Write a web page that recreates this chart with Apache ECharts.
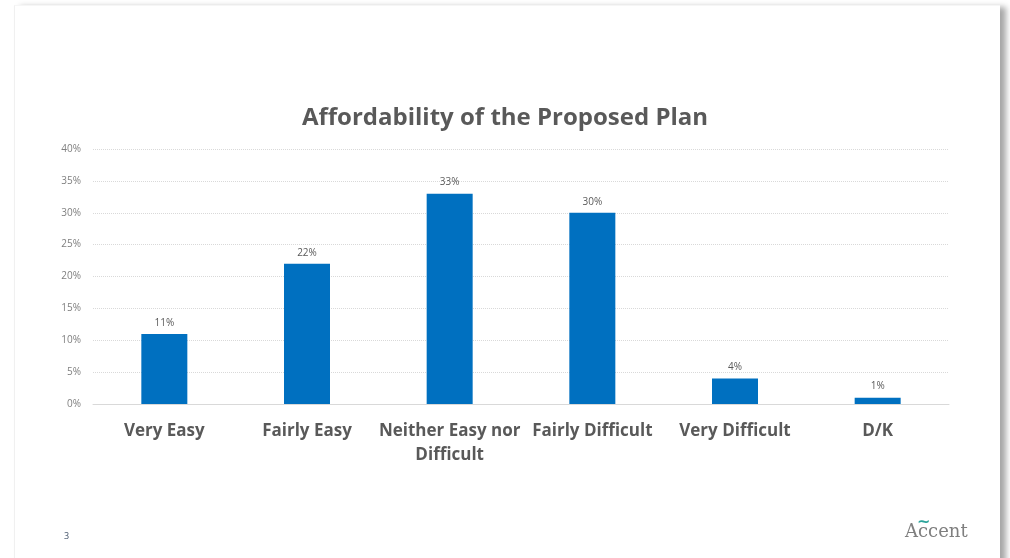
<!DOCTYPE html>
<html>
<head>
<meta charset="utf-8">
<script src="https://cdn.jsdelivr.net/npm/echarts@6/dist/echarts.min.js"></script>
<style>
  html, body { margin: 0; padding: 0; background: #fff; }
  #slide {
    position: absolute; left: 14px; top: 5px; width: 985px; height: 560px;
    background: #fff; border-left: 1px solid #f0f0f0; border-top: 1px solid #f6f6f6;
    box-shadow: 6px 2px 6px rgba(0,0,0,0.35);
  }
  #chart { position: absolute; left: 0; top: 0; width: 1010px; height: 558px; }
</style>
</head>
<body>
<div id="slide"></div>
<div id="chart"></div>
<script>
const categories = ['Very Easy', 'Fairly Easy', 'Neither Easy nor\nDifficult', 'Fairly Difficult', 'Very Difficult', 'D/K']
const values = [11, 22, 33, 30, 4, 1]
const yTicks = [0, 5, 10, 15, 20, 25, 30, 35, 40]

const chart = echarts.init(document.getElementById('chart'))

chart.setOption({
  animation: false,
  title: {
    text: 'Affordability of the Proposed Plan',
    left: 'center',
    top: 101,
    textStyle: { fontFamily: 'Open Sans', fontSize: 24, fontWeight: 'bold', color: '#595959' },
  },
  grid: { left: 93, right: 61, top: 149, bottom: 154, containLabel: false },
  xAxis: {
    type: 'category',
    data: categories,
    axisLine: { lineStyle: { color: '#d9d9d9' } },
    axisTick: { show: false },
    axisLabel: {
      interval: 0,
      margin: 15,
      fontFamily: 'Open Sans',
      fontSize: 17,
      fontWeight: 'bold',
      color: '#595959',
      lineHeight: 24,
    },
  },
  yAxis: {
    type: 'value',
    min: yTicks[0],
    max: yTicks[yTicks.length - 1],
    interval: 5,
    axisLine: { show: false },
    axisTick: { show: false },
    axisLabel: {
      formatter: '{value}%',
      fontFamily: 'Open Sans',
      fontSize: 10,
      color: '#7f7f7f',
      margin: 12,
    },
    splitLine: { lineStyle: { color: '#d9d9d9', type: 'dotted' } },
  },
  series: [
    {
      type: 'bar',
      data: values,
      barWidth: 46,
      itemStyle: { color: '#0070C0' },
      label: {
        show: true,
        position: 'top',
        distance: 6,
        formatter: '{c}%',
        fontFamily: 'Open Sans',
        fontSize: 10,
        color: '#595959',
      },
    },
  ],
  graphic: [
    {
      type: 'text', left: 64, top: 532,
      style: { text: '3', fontFamily: 'Open Sans', fontSize: 9, fill: '#44546a' },
    },
    {
      type: 'text', left: 905, top: 523,
      style: { text: 'Accent', fontFamily: 'DejaVu Serif', fontSize: 18, fill: '#7f7f7f' },
    },
    {
      type: 'text', left: 917, top: 515,
      style: { text: '~', fontFamily: 'DejaVu Sans', fontSize: 16, fontWeight: 'bold', fill: '#2aa39a' },
    },
  ],
})
</script>
</body>
</html>
